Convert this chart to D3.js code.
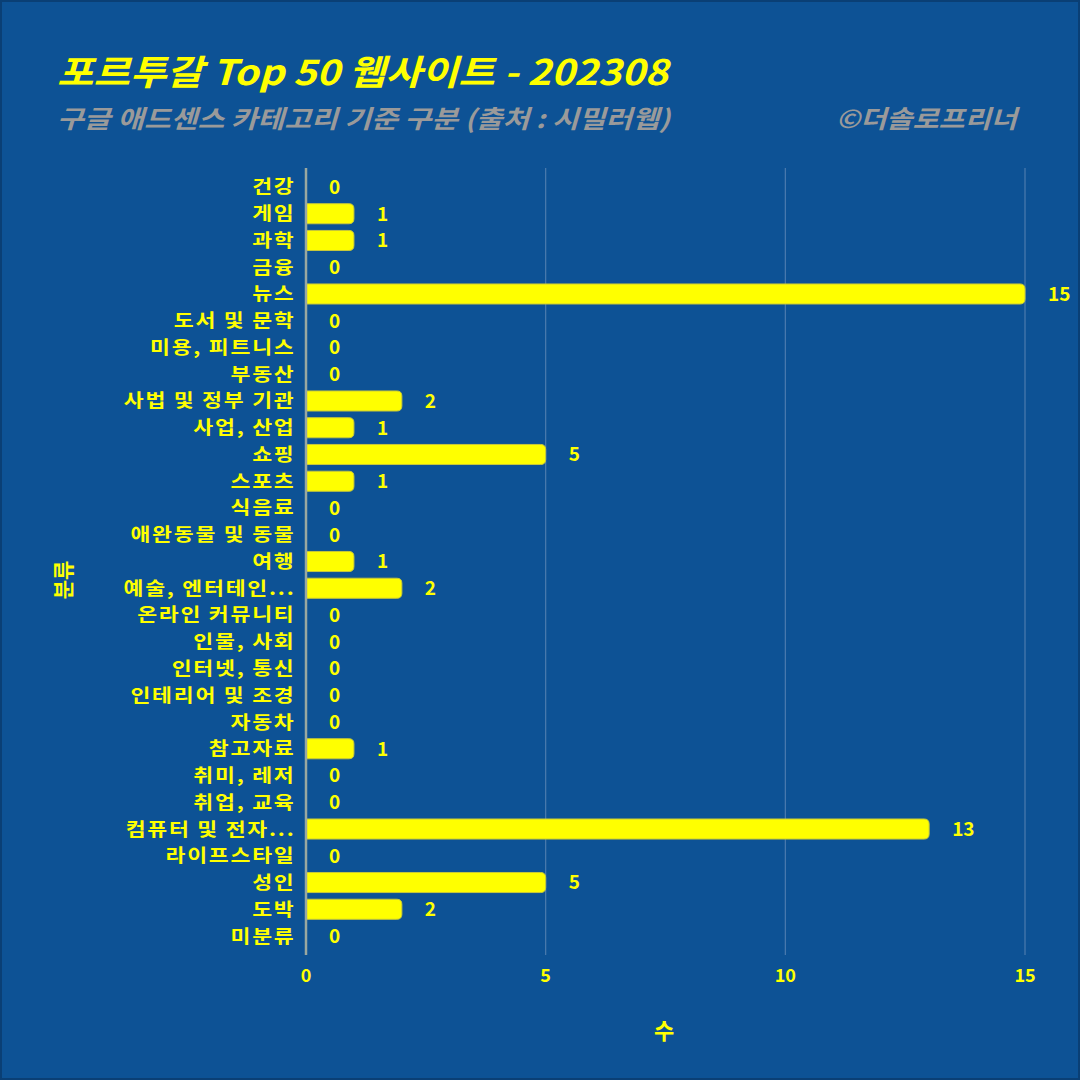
<!DOCTYPE html>
<html><head><meta charset="utf-8">
<script src="https://cdn.jsdelivr.net/npm/d3@7"></script>
<style>html,body{margin:0;padding:0;background:#0d5295;}svg{display:block;}</style>
</head><body>
<script>
const categories = ["건강","게임","과학","금융","뉴스","도서 및 문학","미용, 피트니스","부동산","사법 및 정부 기관","사업, 산업","쇼핑","스포츠","식음료","애완동물 및 동물","여행","예술, 엔터테인...","온라인 커뮤니티","인물, 사회","인터넷, 통신","인테리어 및 조경","자동차","참고자료","취미, 레저","취업, 교육","컴퓨터 및 전자...","라이프스타일","성인","도박","미분류"];
const values = [0,1,1,0,15,0,0,0,2,1,5,1,0,0,1,2,0,0,0,0,0,1,0,0,13,0,5,2,0];
const xTicks = [0,5,10,15];
const title = "포르투갈 Top 50 웹사이트 - 202308";
const subtitle = "구글 애드센스 카테고리 기준 구분 (출처 : 시밀러웹)";
const credit = "©더솔로프리너";

const W=1080,H=1080;
const font = "'Noto Sans CJK KR','Noto Sans',sans-serif";
const svg = d3.select("body").append("svg").attr("width",W).attr("height",H);
svg.append("rect").attr("width",W).attr("height",H).attr("fill","#0d5295");
svg.append("rect").attr("x",1).attr("y",1).attr("width",W-2).attr("height",H-2).attr("fill","none").attr("stroke","#0a3f75").attr("stroke-width",2);

const x = d3.scaleLinear().domain([0,15]).range([306,1025]);
const y = d3.scaleBand().domain(categories).range([173.6,949.4]).paddingInner(0.25).paddingOuter(0.125);

// grid
svg.append("g").selectAll("line").data(xTicks.slice(1)).join("line")
  .attr("x1",d=>x(d)).attr("x2",d=>x(d)).attr("y1",168).attr("y2",955)
  .attr("stroke","#5d86b5").attr("stroke-width",1.2).attr("opacity",0.8);

// bars with rounded right corners
const r=5;
svg.append("g").selectAll("path").data(categories.map((c,i)=>({c,v:values[i]})).filter(d=>d.v>0)).join("path")
  .attr("d",d=>{
    const x0=x(0), x1=x(d.v), y0=y(d.c), h=y.bandwidth();
    const rr=Math.min(r,(x1-x0)/2);
    return `M${x0},${y0}H${x1-rr}Q${x1},${y0} ${x1},${y0+rr}V${y0+h-rr}Q${x1},${y0+h} ${x1-rr},${y0+h}H${x0}Z`;
  })
  .attr("fill","#ffff00").attr("stroke","#c8c83a").attr("stroke-width",1);

// axis line at 0
svg.append("line").attr("x1",x(0)).attr("x2",x(0)).attr("y1",168).attr("y2",955)
  .attr("stroke","#9aa8a0").attr("stroke-width",2.5);

// value labels
svg.append("g").selectAll("text").data(categories.map((c,i)=>({c,v:values[i]}))).join("text")
  .attr("x",d=>x(d.v)+23).attr("y",d=>y(d.c)+y.bandwidth()/2).attr("dy","0.36em")
  .attr("text-anchor","start").attr("fill","#ffff00").attr("font-family",font)
  .attr("font-weight","bold").attr("font-size",19).text(d=>d.v);

// y labels (horizontally stretched like the reference font)
svg.append("g").selectAll("text").data(categories).join("text")
  .attr("transform",d=>`translate(295.5,${y(d)+y.bandwidth()/2}) scale(1.2,1)`).attr("dy","0.36em")
  .attr("text-anchor","end").attr("fill","#ffff00").attr("font-family",font)
  .attr("font-weight","bold").attr("font-size",18).attr("letter-spacing",1.5).text(d=>d);

// x tick labels
svg.append("g").selectAll("text").data(xTicks).join("text")
  .attr("x",d=>x(d)).attr("y",976).attr("dy","0.36em")
  .attr("text-anchor","middle").attr("fill","#ffff00").attr("font-family",font)
  .attr("font-weight","bold").attr("font-size",18).text(d=>d);

// axis titles
svg.append("text").attr("x",664).attr("y",1031).attr("dy","0.36em").attr("text-anchor","middle")
  .attr("fill","#ffff00").attr("font-family",font).attr("font-weight","bold").attr("font-size",22).text("수");
svg.append("text").attr("transform","translate(63,580) rotate(-90)").attr("dy","0.36em").attr("text-anchor","middle")
  .attr("fill","#ffff00").attr("font-family",font).attr("font-weight","bold").attr("font-size",21).text("분류");

// titles
svg.append("text").attr("x",57).attr("y",85).attr("fill","#ffff00").attr("font-family",font)
  .attr("font-weight","bold").attr("font-style","italic").attr("font-size",35)
  .attr("textLength",611).attr("lengthAdjust","spacingAndGlyphs").text(title);
svg.append("text").attr("x",57).attr("y",128).attr("fill","#9a9a9a").attr("font-family",font)
  .attr("font-weight","bold").attr("font-style","italic").attr("font-size",25)
  .attr("textLength",613).attr("lengthAdjust","spacingAndGlyphs").text(subtitle);
svg.append("text").attr("x",836).attr("y",128).attr("fill","#9a9a9a").attr("font-family",font)
  .attr("font-weight","bold").attr("font-style","italic").attr("font-size",25)
  .attr("textLength",181).attr("lengthAdjust","spacingAndGlyphs").text(credit);
</script>
</body></html>
